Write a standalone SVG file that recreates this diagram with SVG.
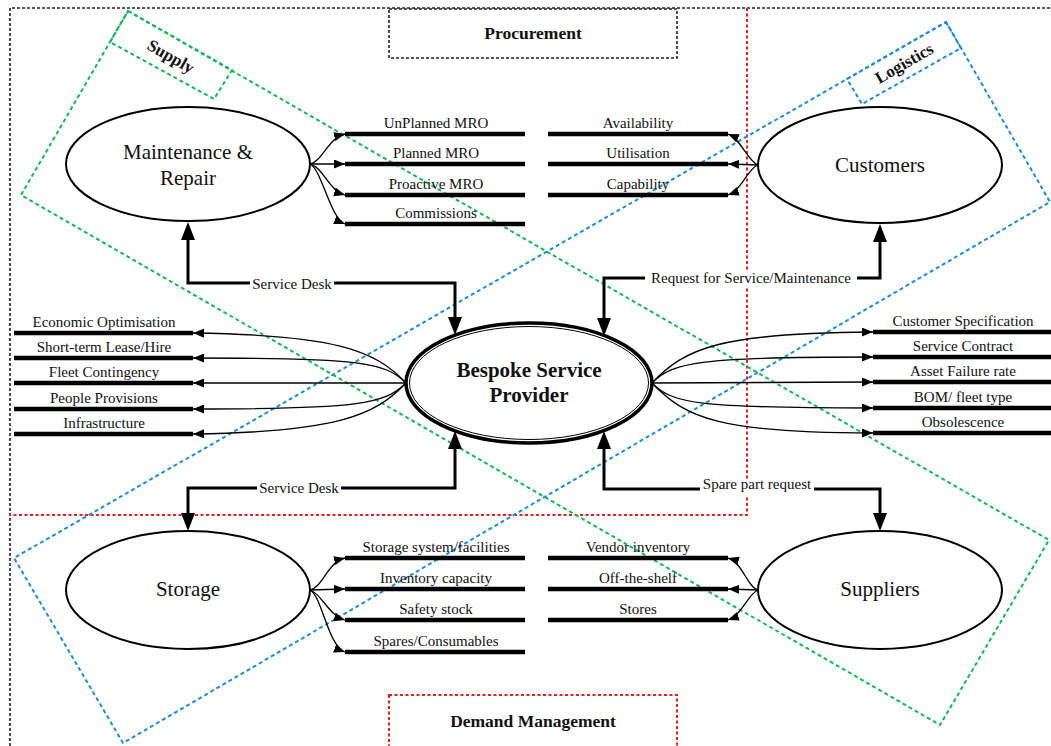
<svg xmlns="http://www.w3.org/2000/svg" width="1051" height="746" viewBox="0 0 1051 746">
<style>
text{font-family:"Liberation Serif","Times New Roman",serif;fill:#111;}
.lbl{font-size:15px;text-anchor:middle;}
.big{font-size:21px;text-anchor:middle;}
.bold{font-weight:bold;text-anchor:middle;}
.bar{stroke:#000;stroke-width:4.5;fill:none;}
.node{fill:#fff;stroke:#000;stroke-width:2;}
.fan{fill:none;stroke:#000;stroke-width:1.3;}
.conn{fill:none;stroke:#000;stroke-width:3;}
.blk{fill:none;stroke:#222;stroke-width:1.6;stroke-dasharray:3 2;}
.red{fill:none;stroke:#ee1c1c;stroke-width:2;stroke-dasharray:3 2.5;}
.grn{fill:none;stroke:#14b856;stroke-width:2;stroke-dasharray:4 3;}
.blu{fill:none;stroke:#1a8ed6;stroke-width:2;stroke-dasharray:4 3;}
</style>
<defs>
<marker id="ah" markerUnits="userSpaceOnUse" markerWidth="18" markerHeight="14" refX="0" refY="7" orient="auto-start-reverse" viewBox="0 0 18 14"><path d="M0,0 L18,7 L0,14 z" fill="#000"/></marker>
<marker id="sa" markerUnits="userSpaceOnUse" markerWidth="11" markerHeight="9" refX="11" refY="4.5" orient="auto" viewBox="0 0 11 9"><path d="M0,0 L11,4.5 L0,9 z" fill="#000"/></marker>
</defs>
<rect width="1051" height="746" fill="#fff"/>

<g id="regions">
<path class="blk" d="M10,746 V8 H1051"/>
<path class="red" d="M747,8 V515 H10"/>
<g id="procurement"><rect class="blk" x="389" y="9" width="288" height="49"/><text class="bold" x="533" y="39" font-size="17.5">Procurement</text></g>
<g id="demand"><rect class="red" x="389" y="695" width="288" height="60"/><text class="bold" x="533" y="727" font-size="17.5">Demand Management</text></g>
<g id="supply">
<polygon class="grn" points="128,11 1049,540 940,725 21,195"/>
<polygon class="grn" points="128,11 232,70 214,99 110,42"/>
<text class="bold" font-size="17" transform="translate(171,56) rotate(30)" y="6">Supply</text>
</g>
<g id="logistics">
<polygon class="blu" points="946,22 1050,202 123,743 14,558"/>
<polygon class="blu" points="847,79 946,22 961,48 862,104"/>
<text class="bold" font-size="17" transform="translate(904,63) rotate(-30)" y="6">Logistics</text>
</g>
</g>

<g id="connectors">
<path class="conn" d="M188,240 V283 H455 V317" marker-start="url(#ah)" marker-end="url(#ah)"/>
<path class="conn" d="M880,242 V278 H604 V318" marker-start="url(#ah)" marker-end="url(#ah)"/>
<path class="conn" d="M455,449 V488 H188 V513" marker-start="url(#ah)" marker-end="url(#ah)"/>
<path class="conn" d="M604,449 V489 H880 V513" marker-start="url(#ah)" marker-end="url(#ah)"/>
<rect x="250" y="276" width="84" height="15" fill="#fff"/>
<text class="lbl" x="292" y="289">Service Desk</text>
<rect x="645" y="271" width="212" height="15" fill="#fff"/>
<text class="lbl" x="751" y="283">Request for Service/Maintenance</text>
<rect x="257" y="481" width="84" height="15" fill="#fff"/>
<text class="lbl" x="299" y="493">Service Desk</text>
<rect x="700" y="481" width="114" height="15" fill="#fff"/>
<text class="lbl" x="757" y="489">Spare part request</text>

<path class="fan" d="M310,164 C322,162 328,138 345,134" marker-end="url(#sa)"/>
<path class="fan" d="M310,164 L345,164" marker-end="url(#sa)"/>
<path class="fan" d="M310,164 C324,168 328,190 345,195" marker-end="url(#sa)"/>
<path class="fan" d="M310,164 C322,170 330,218 345,224" marker-end="url(#sa)"/>

<path class="fan" d="M758,165 C748,162 742,140 728,134" marker-end="url(#sa)"/>
<path class="fan" d="M758,165 L728,164" marker-end="url(#sa)"/>
<path class="fan" d="M758,165 C748,168 742,190 728,195" marker-end="url(#sa)"/>

<path class="fan" d="M310,590 C322,588 328,562 345,558" marker-end="url(#sa)"/>
<path class="fan" d="M310,590 L345,589" marker-end="url(#sa)"/>
<path class="fan" d="M310,590 C322,594 328,615 345,620" marker-end="url(#sa)"/>
<path class="fan" d="M310,590 C322,596 328,646 345,652" marker-end="url(#sa)"/>

<path class="fan" d="M758,590 C748,588 742,562 728,558" marker-end="url(#sa)"/>
<path class="fan" d="M758,590 L728,589" marker-end="url(#sa)"/>
<path class="fan" d="M758,590 C748,594 742,615 728,620" marker-end="url(#sa)"/>

<path class="fan" d="M406,383 C375,350 335,335 193,333" marker-end="url(#sa)"/>
<path class="fan" d="M406,383 C385,362 360,358 193,358" marker-end="url(#sa)"/>
<path class="fan" d="M406,383 L193,383" marker-end="url(#sa)"/>
<path class="fan" d="M406,383 C385,404 360,409 193,409" marker-end="url(#sa)"/>
<path class="fan" d="M406,383 C375,416 335,432 193,434" marker-end="url(#sa)"/>

<path class="fan" d="M652,383 C685,348 720,333 873,332" marker-end="url(#sa)"/>
<path class="fan" d="M652,383 C672,362 700,357 873,357" marker-end="url(#sa)"/>
<path class="fan" d="M652,383 L873,382" marker-end="url(#sa)"/>
<path class="fan" d="M652,383 C672,404 700,408 873,408" marker-end="url(#sa)"/>
<path class="fan" d="M652,383 C685,418 720,433 873,433" marker-end="url(#sa)"/>
</g>

<g id="maintenance-items">
<path class="bar" d="M345,134 H525 M345,164 H525 M345,195 H525 M345,224 H525"/>
<text class="lbl" x="436" y="128">UnPlanned MRO</text>
<text class="lbl" x="436" y="158">Planned MRO</text>
<text class="lbl" x="436" y="189">Proactive MRO</text>
<text class="lbl" x="436" y="218">Commissions</text>
</g>
<g id="customer-items">
<path class="bar" d="M548,134 H728 M548,164 H728 M548,195 H728"/>
<text class="lbl" x="638" y="128">Availability</text>
<text class="lbl" x="638" y="158">Utilisation</text>
<text class="lbl" x="638" y="189">Capability</text>
</g>
<g id="left-items">
<path class="bar" d="M14,333 H193 M14,358 H193 M14,383 H193 M14,409 H193 M14,434 H193"/>
<text class="lbl" x="104" y="327">Economic Optimisation</text>
<text class="lbl" x="104" y="352">Short-term Lease/Hire</text>
<text class="lbl" x="104" y="377">Fleet Contingency</text>
<text class="lbl" x="104" y="403">People Provisions</text>
<text class="lbl" x="104" y="428">Infrastructure</text>
</g>
<g id="right-items">
<path class="bar" d="M873,332 H1051 M873,357 H1051 M873,382 H1051 M873,408 H1051 M873,433 H1051"/>
<text class="lbl" x="963" y="326">Customer Specification</text>
<text class="lbl" x="963" y="351">Service Contract</text>
<text class="lbl" x="963" y="376">Asset Failure rate</text>
<text class="lbl" x="963" y="402">BOM/ fleet type</text>
<text class="lbl" x="963" y="427">Obsolescence</text>
</g>
<g id="storage-items">
<path class="bar" d="M345,558 H525 M345,589 H525 M345,620 H525 M345,652 H525"/>
<text class="lbl" x="436" y="552">Storage system/facilities</text>
<text class="lbl" x="436" y="583">Inventory capacity</text>
<text class="lbl" x="436" y="614">Safety stock</text>
<text class="lbl" x="436" y="646">Spares/Consumables</text>
</g>
<g id="supplier-items">
<path class="bar" d="M548,558 H728 M548,589 H728 M548,620 H728"/>
<text class="lbl" x="638" y="552">Vendor inventory</text>
<text class="lbl" x="638" y="583">Off-the-shelf</text>
<text class="lbl" x="638" y="614">Stores</text>
</g>

<g id="node-maintenance">
<ellipse class="node" cx="188" cy="164" rx="122" ry="57"/>
<text class="big" x="188" y="159">Maintenance &amp;</text>
<text class="big" x="188" y="185">Repair</text>
</g>
<g id="node-customers">
<ellipse class="node" cx="880" cy="165" rx="122" ry="58"/>
<text class="big" x="880" y="172">Customers</text>
</g>
<g id="node-storage">
<ellipse class="node" cx="188" cy="590" rx="122" ry="59"/>
<text class="big" x="188" y="596">Storage</text>
</g>
<g id="node-suppliers">
<ellipse class="node" cx="880" cy="590" rx="122" ry="59"/>
<text class="big" x="880" y="596">Suppliers</text>
</g>
<g id="node-bsp">
<ellipse cx="529" cy="383" rx="123" ry="60" fill="#fff" stroke="#000" stroke-width="3.5"/>
<ellipse cx="529" cy="383" rx="119.5" ry="56.5" fill="none" stroke="#000" stroke-width="1"/>
<text class="bold" font-size="21" x="529" y="377">Bespoke Service</text>
<text class="bold" font-size="21" x="529" y="402">Provider</text>
</g>
</svg>
